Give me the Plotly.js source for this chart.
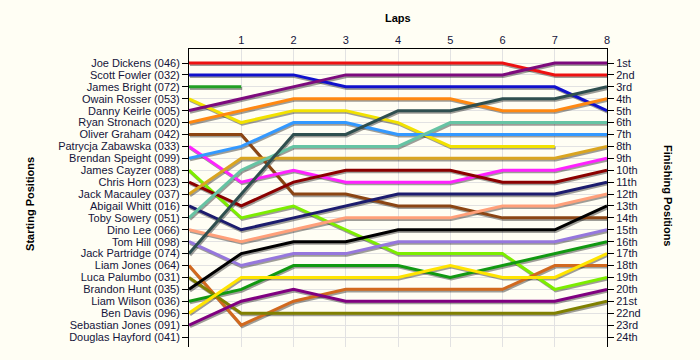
<!DOCTYPE html>
<html>
<head>
<meta charset="utf-8">
<script src="https://cdn.plot.ly/plotly-3.0.1.min.js"></script>
<style>html,body{margin:0;padding:0;background:#FFFEF4;}#chart{width:700px;height:360px;}</style>
</head>
<body>
<div id="chart"></div>
<script>
// ---- data ----
const laps = [0, 1, 2, 3, 4, 5, 6, 7, 8];
const lapLabels = ['', '1', '2', '3', '4', '5', '6', '7', '8'];

const startingLabels = [
  'Joe Dickens (046)', 'Scott Fowler (032)', 'James Bright (072)', 'Owain Rosser (053)',
  'Danny Keirle (005)', 'Ryan Stronach (020)', 'Oliver Graham (042)', 'Patrycja Zabawska (033)',
  'Brendan Speight (099)', 'James Cayzer (088)', 'Chris Horn (023)', 'Jack Macauley (037)',
  'Abigail Whitt (016)', 'Toby Sowery (051)', 'Dino Lee (066)', 'Tom Hill (098)',
  'Jack Partridge (074)', 'Liam Jones (064)', 'Luca Palumbo (031)', 'Brandon Hunt (035)',
  'Liam Wilson (036)', 'Ben Davis (096)', 'Sebastian Jones (091)', 'Douglas Hayford (041)'
];
const finishingLabels = [
  '1st', '2nd', '3rd', '4th', '5th', '6th', '7th', '8th', '9th', '10th', '11th', '12th',
  '13th', '14th', '15th', '16th', '17th', '18th', '19th', '20th', '21st', '22nd', '23rd', '24th'
];

// positions at laps 0..8 (null = retired)
const joeDickens      = [1, 1, 1, 1, 1, 1, 1, 2, 2];
const scottFowler     = [2, 2, 2, 3, 3, 3, 3, 3, 5];
const jamesBright     = [3, 3, null, null, null, null, null, null, null];
const owainRosser     = [4, 6, 5, 5, 6, 8, 8, 8, null];
const dannyKeirle     = [5, 4, 3, 2, 2, 2, 2, 1, 1];
const ryanStronach    = [6, 5, 4, 4, 4, 4, 5, 5, 4];
const oliverGraham    = [7, 7, 12, 12, 13, 13, 14, 14, 14];
const patrycjaZabawska= [8, 11, 10, 11, 11, 11, 10, 10, 9];
const brendanSpeight  = [9, 8, 6, 6, 7, 7, 7, 7, 7];
const jamesCayzer     = [10, 14, 13, 15, 17, 17, 17, 20, 19];
const chrisHorn       = [11, 13, 11, 10, 10, 10, 11, 11, 10];
const jackMacauley    = [12, 9, 9, 9, 9, 9, 9, 9, 8];
const abigailWhitt    = [13, 15, 14, 13, 12, 12, 12, 12, 11];
const tobySowery      = [14, 10, 8, 8, 8, 6, 6, 6, 6];
const dinoLee         = [15, 16, 15, 14, 14, 14, 13, 13, 12];
const tomHill         = [16, 18, 17, 17, 16, 16, 16, 16, 15];
const jackPartridge   = [17, 12, 7, 7, 5, 5, 4, 4, 3];
const liamJones       = [18, 23, 21, 20, 20, 20, 20, 18, 18];
const lucaPalumbo     = [19, 22, 22, 22, 22, 22, 22, 22, 21];
const brandonHunt     = [20, 17, 16, 16, 15, 15, 15, 15, 13];
const liamWilson      = [21, 20, 18, 18, 18, 19, 18, 17, 16];
const benDavis        = [22, 19, 19, 19, 19, 18, 19, 19, 17];
const sebastianJones  = [23, 21, 20, 21, 21, 21, 21, 21, 20];
const douglasHayford  = [24];

const series = [joeDickens, scottFowler, jamesBright, owainRosser, dannyKeirle, ryanStronach,
  oliverGraham, patrycjaZabawska, brendanSpeight, jamesCayzer, chrisHorn, jackMacauley,
  abigailWhitt, tobySowery, dinoLee, tomHill, jackPartridge, liamJones, lucaPalumbo,
  brandonHunt, liamWilson, benDavis, sebastianJones, douglasHayford];

// ---- styles ----
const colors = ['#ee1111', '#1111cc', '#22a022', '#f2e200', '#7d0a7d', '#ff8811',
  '#8b4513', '#ff22ff', '#3399ff', '#7ced00', '#8b0000', '#daa520',
  '#1c1c6e', '#66c4a4', '#ffa07a', '#9677dd', '#2f4f4f', '#d2691e', '#808000',
  '#000000', '#119911', '#ffe400', '#800080', '#999999'];

const rowPx = (337 - 63) / 23;
const lapPx = (607 - 189) / 8;
const yTop = 1 - (63 - 49) / rowPx;
const yBot = 24 + (347 - 337) / rowPx;
const sdx = 1 / lapPx, sdy = 1.6 / rowPx;

const traces = [];
series.forEach((s, i) => {
  traces.push({x: laps.slice(0, s.length), y: s, xaxis: 'x', yaxis: 'y', mode: 'lines',
    line: {color: 'rgba(0,0,0,0.38)', width: 3}, hoverinfo: 'skip', showlegend: false});
});
series.forEach((s, i) => {
  traces.push({x: laps.slice(0, s.length), y: s, xaxis: 'x2', yaxis: 'y2', mode: 'lines',
    name: startingLabels[i], line: {color: colors[i], width: 3}, showlegend: false});
});
traces.push({x: [laps[8]], y: [dannyKeirle[8]], xaxis: 'x2', yaxis: 'y3', mode: 'lines',
  hoverinfo: 'skip', showlegend: false});

const tickFont = {family: 'Liberation Sans, Arial, sans-serif', size: 11, color: '#14143a'};
const titleFont = {family: 'Liberation Sans, Arial, sans-serif', size: 11, color: '#000000', weight: 'bold'};
const rows = startingLabels.map((_, i) => i + 1);

const layout = {
  width: 700, height: 360,
  margin: {l: 189, r: 93, t: 49, b: 13, pad: 0},
  paper_bgcolor: '#FFFEF4', plot_bgcolor: '#FFFEF4',
  showlegend: false,
  xaxis: {range: [0 - sdx, 8 - sdx], visible: false, fixedrange: true},
  yaxis: {range: [yBot - sdy, yTop - sdy], visible: false, fixedrange: true},
  xaxis2: {overlaying: 'x', side: 'top', anchor: 'y2', range: [0, 8],
    tickmode: 'array', tickvals: laps, ticktext: lapLabels, ticks: '',
    showgrid: true, gridcolor: '#e2e2e2', gridwidth: 1, zeroline: false,
    showline: true, linecolor: '#000000', linewidth: 1, tickfont: tickFont},
  yaxis2: {overlaying: 'y', side: 'left', anchor: 'x2', range: [yBot, yTop],
    tickmode: 'array', tickvals: rows, ticktext: startingLabels,
    ticks: 'outside', ticklen: 6, tickcolor: '#000000', tickwidth: 1,
    showgrid: true, gridcolor: '#e2e2e2', gridwidth: 1, zeroline: false,
    showline: true, linecolor: '#000000', linewidth: 1, tickfont: tickFont},
  yaxis3: {overlaying: 'y', side: 'right', anchor: 'x2', range: [yBot, yTop],
    tickmode: 'array', tickvals: rows, ticktext: finishingLabels,
    ticks: 'outside', ticklen: 6, tickcolor: '#000000', tickwidth: 1,
    showgrid: false, zeroline: false,
    showline: true, linecolor: '#000000', linewidth: 1, tickfont: tickFont},
  annotations: [
    {text: 'Laps', xref: 'paper', yref: 'paper', x: 0.5, y: 1, yshift: 31,
      xanchor: 'center', yanchor: 'middle', showarrow: false, font: titleFont},
    {text: 'Starting Positions', xref: 'paper', yref: 'paper', x: 0, xshift: -159, y: 0.48,
      xanchor: 'center', yanchor: 'middle', textangle: -90, showarrow: false, font: titleFont},
    {text: 'Finishing Positions', xref: 'paper', yref: 'paper', x: 1, xshift: 61, y: 0.51,
      xanchor: 'center', yanchor: 'middle', textangle: 90, showarrow: false, font: titleFont}
  ]
};

Plotly.newPlot('chart', traces, layout, {staticPlot: true, displayModeBar: false});
</script>
</body>
</html>
